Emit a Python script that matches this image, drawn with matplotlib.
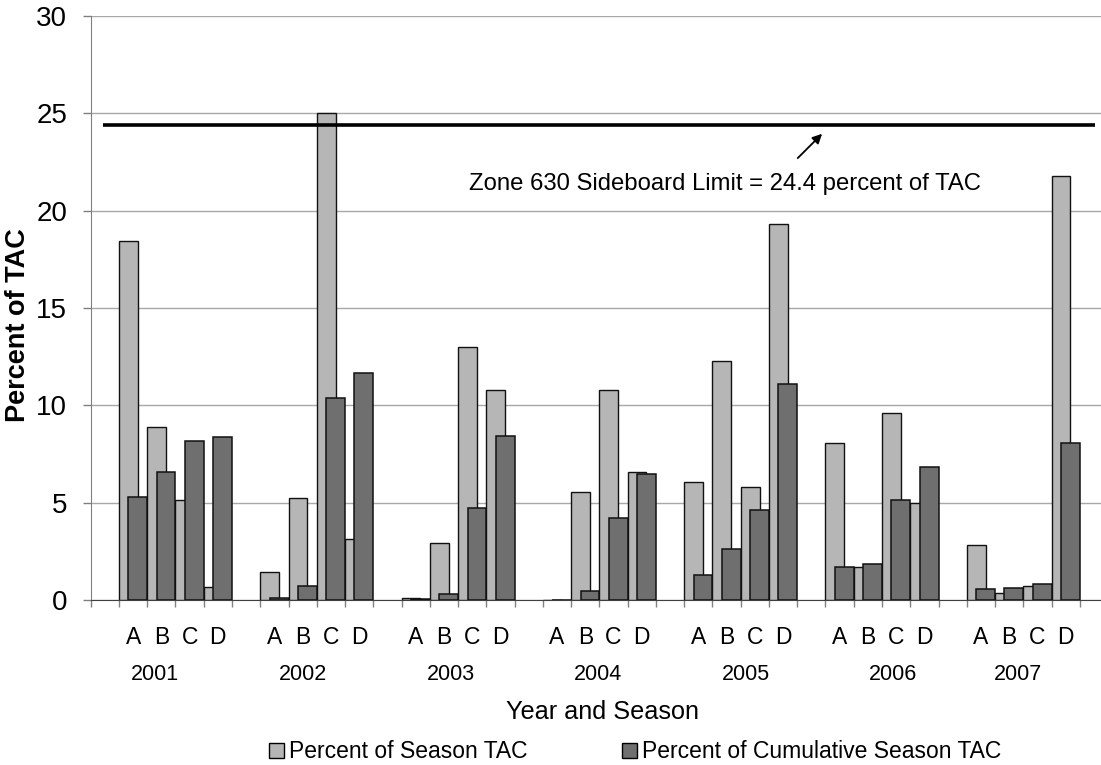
import matplotlib
matplotlib.use("Agg")
import matplotlib.pyplot as plt
import numpy as np
from matplotlib.patches import Patch

plt.rcParams['font.family'] = ['Liberation Sans', 'DejaVu Sans']

years = ["2001", "2002", "2003", "2004", "2005", "2006", "2007"]
seasons = ["A", "B", "C", "D"]
# percent of season TAC (light bars), per year A-D
season_tac = [
    [18.45, 8.9, 5.15, 0.65],
    [1.45, 5.25, 25.0, 3.15],
    [0.12, 2.95, 13.0, 10.8],
    [0.0, 5.55, 10.8, 6.55],
    [6.05, 12.3, 5.8, 19.3],
    [8.05, 1.7, 9.6, 5.0],
    [2.85, 0.35, 0.7, 21.8],
]
# percent of cumulative season TAC (dark bars)
cumul_tac = [
    [5.3, 6.55, 8.15, 8.35],
    [0.12, 0.7, 10.4, 11.65],
    [0.03, 0.3, 4.75, 8.42],
    [0.0, 0.47, 4.2, 6.45],
    [1.26, 2.6, 4.6, 11.1],
    [1.7, 1.85, 5.15, 6.85],
    [0.55, 0.62, 0.82, 8.05],
]
limit = 24.4
year_label_x = [2.26, 7.51, 12.75, 17.95, 23.19, 28.39, 32.8]

W, H = 1101, 765
fig = plt.figure(figsize=(W / 100, H / 100), dpi=100)
x0, x1, ytop, ybot = 90.7, 1101, 16, 600
ax = fig.add_axes([x0 / W, 1 - ybot / H, (x1 - x0) / W, (ybot - ytop) / H])

idx = np.array([5 * y + 1 + s for y in range(len(years)) for s in range(4)], dtype=float)
light = np.array(season_tac).ravel()
dark = np.array(cumul_tac).ravel()
bw = 2 / 3.0

ax.bar(idx, light, width=bw, align="edge", color="#b6b6b6", edgecolor="#111111", lw=1.0, zorder=3)
ax.bar(idx + bw / 2, dark, width=bw, align="edge", color="#6f6f6f", edgecolor="#111111", lw=1.1, zorder=4)

ax.set_xlim(0, (x1 - x0) / 28.26)
ax.set_ylim(0, 30)
ax.set_yticks(range(0, 31, 5))
ax.set_xticks(np.arange(0, 36))
ax.set_xticklabels([])
ax.tick_params(axis="x", length=5, color="#808080", width=1)
ax.tick_params(axis="y", length=6, color="#808080", width=1, labelsize=20, pad=11)
ax.grid(axis="y", color="#a8a8a8", lw=1, zorder=0)
for s in ["right", "top"]:
    ax.spines[s].set_visible(False)
ax.spines["left"].set_color("#808080")
ax.spines["bottom"].set_color("#404040")

ax.plot([0.43, 35.55], [limit, limit], color="black", lw=2.6, zorder=5, solid_capstyle="butt")
ax.annotate("", xy=(25.95, 24.05), xytext=(24.95, 22.6),
            arrowprops=dict(arrowstyle="-|>", color="black", lw=1.3, mutation_scale=14))
ax.text(13.38, 21.35, "Zone 630 Sideboard Limit = 24.4 percent of TAC",
        ha="left", va="center", fontsize=17.2)

trans = ax.get_xaxis_transform()
for i, s in zip(idx, seasons * len(years)):
    ax.text(i + 0.5, -38 / 584, s, transform=trans, ha="center", va="center", fontsize=16.5)
for xl, yl in zip(year_label_x, years):
    ax.text(xl, -75 / 584, yl, transform=trans, ha="center", va="center", fontsize=15.5)

fig.text(603 / W, 1 - 712 / H, "Year and Season", ha="center", va="center", fontsize=18.2)
fig.text(18.5 / W, 1 - 325 / H, "Percent of TAC", ha="center", va="center",
         rotation=90, fontsize=19.5, fontweight="bold")

handles = [Patch(facecolor="#b6b6b6", edgecolor="black", lw=1),
           Patch(facecolor="#6f6f6f", edgecolor="black", lw=1)]
fig.legend(handles, ["Percent of Season TAC", "Percent of Cumulative Season TAC"],
           loc="center", bbox_to_anchor=(635 / W, 1 - 752 / H), ncol=2, frameon=False,
           fontsize=16.5, handlelength=0.65, handleheight=0.65, handletextpad=0.2,
           columnspacing=4.15, borderaxespad=0, borderpad=0)

fig.savefig("out.png", dpi=100)
